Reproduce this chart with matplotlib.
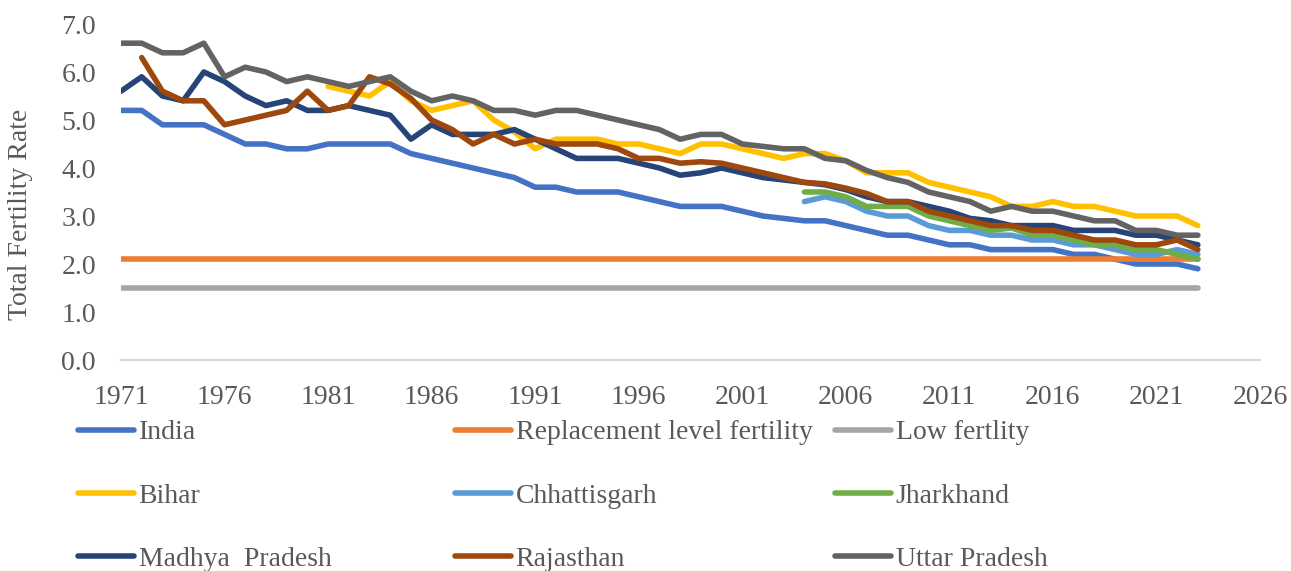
import numpy as np
import matplotlib.pyplot as plt

plt.rcParams['font.family'] = ['Liberation Serif', 'DejaVu Serif']

# years and total fertility rates
years = list(range(1971, 2024))

india = [5.2, 5.2, 4.9, 4.9, 4.9, 4.7, 4.5, 4.5, 4.4, 4.4,
         4.5, 4.5, 4.5, 4.5, 4.3, 4.2, 4.1, 4.0, 3.9, 3.8,
         3.6, 3.6, 3.5, 3.5, 3.5, 3.4, 3.3, 3.2, 3.2, 3.2,
         3.1, 3.0, 2.95, 2.9, 2.9, 2.8, 2.7, 2.6, 2.6, 2.5,
         2.4, 2.4, 2.3, 2.3, 2.3, 2.3, 2.2, 2.2, 2.1, 2.0,
         2.0, 2.0, 1.9]
replacement = [2.1] * len(years)
low = [1.5] * len(years)

bihar_years = list(range(1981, 2024))
bihar = [5.7, 5.6, 5.5, 5.8, 5.4, 5.2, 5.3, 5.4, 5.0, 4.75,
         4.4, 4.6, 4.6, 4.6, 4.5, 4.5, 4.4, 4.3, 4.5, 4.5,
         4.4, 4.3, 4.2, 4.3, 4.3, 4.15, 3.9, 3.9, 3.9, 3.7,
         3.6, 3.5, 3.4, 3.2, 3.2, 3.3, 3.2, 3.2, 3.1, 3.0,
         3.0, 3.0, 2.8]

state_years = list(range(2004, 2024))
chhattisgarh = [3.3, 3.4, 3.3, 3.1, 3.0, 3.0, 2.8, 2.7, 2.7, 2.6,
                2.6, 2.5, 2.5, 2.4, 2.4, 2.3, 2.2, 2.2, 2.3, 2.2]
jharkhand = [3.5, 3.5, 3.4, 3.2, 3.2, 3.2, 3.0, 2.9, 2.8, 2.7,
             2.75, 2.6, 2.6, 2.5, 2.4, 2.4, 2.3, 2.3, 2.2, 2.1]

madhya = [5.6, 5.9, 5.5, 5.4, 6.0, 5.8, 5.5, 5.3, 5.4, 5.2,
          5.2, 5.3, 5.2, 5.1, 4.6, 4.9, 4.7, 4.7, 4.7, 4.8,
          4.6, 4.4, 4.2, 4.2, 4.2, 4.1, 4.0, 3.85, 3.9, 4.0,
          3.9, 3.8, 3.75, 3.7, 3.65, 3.55, 3.4, 3.3, 3.3, 3.2,
          3.1, 2.95, 2.9, 2.8, 2.8, 2.8, 2.7, 2.7, 2.7, 2.6,
          2.6, 2.5, 2.4]

raj_years = list(range(1972, 2024))
rajasthan = [6.3, 5.6, 5.4, 5.4, 4.9, 5.0, 5.1, 5.2, 5.6,
             5.2, 5.3, 5.9, 5.75, 5.45, 5.0, 4.8, 4.5, 4.7, 4.5,
             4.6, 4.5, 4.5, 4.5, 4.4, 4.2, 4.2, 4.1, 4.13, 4.1,
             4.0, 3.9, 3.8, 3.7, 3.67, 3.58, 3.47, 3.3, 3.3, 3.1,
             3.0, 2.9, 2.8, 2.8, 2.7, 2.7, 2.6, 2.5, 2.5, 2.4,
             2.4, 2.5, 2.3]

uttar = [6.6, 6.6, 6.4, 6.4, 6.6, 5.9, 6.1, 6.0, 5.8, 5.9,
         5.8, 5.7, 5.8, 5.9, 5.6, 5.4, 5.5, 5.4, 5.2, 5.2,
         5.1, 5.2, 5.2, 5.1, 5.0, 4.9, 4.8, 4.6, 4.7, 4.7,
         4.5, 4.45, 4.4, 4.4, 4.2, 4.15, 3.95, 3.8, 3.7, 3.5,
         3.4, 3.3, 3.1, 3.2, 3.1, 3.1, 3.0, 2.9, 2.9, 2.7,
         2.7, 2.6, 2.6]

series = [
    ('India', years, india, '#4472C4'),
    ('Replacement level fertility', years, replacement, '#ED7D31'),
    ('Low fertlity', years, low, '#A5A5A5'),
    ('Bihar', bihar_years, bihar, '#FFC000'),
    ('Chhattisgarh', state_years, chhattisgarh, '#5B9BD5'),
    ('Jharkhand', state_years, jharkhand, '#70AD47'),
    ('Madhya  Pradesh', years, madhya, '#264478'),
    ('Rajasthan', raj_years, rajasthan, '#9E480E'),
    ('Uttar Pradesh', years, uttar, '#636363'),
]

fs = 20
fig = plt.figure(figsize=(12.91, 5.71), dpi=100)
ax = fig.add_axes([121 / 1291, 1 - 360 / 571, (1260 - 121) / 1291, 336 / 571])

handles = []
for name, xs, ys, col in series:
    h, = ax.plot(xs, ys, color=col, lw=4, solid_capstyle='round',
                 solid_joinstyle='round', label=name)
    handles.append(h)

ax.set_xlim(1971, 2026)
ax.set_ylim(0, 7)
ax.set_xticks(np.arange(1971, 2027, 5))
ax.set_yticks(np.arange(0, 8, 1))
ax.yaxis.set_major_formatter(plt.FormatStrFormatter('%.1f'))
ax.tick_params(length=0, labelsize=fs, labelcolor='#595959')
ax.tick_params(axis='y', pad=18)
ax.tick_params(axis='x', pad=18)
for s in ['top', 'right', 'left']:
    ax.spines[s].set_visible(False)
ax.spines['bottom'].set_color('#D9D9D9')
ax.spines['bottom'].set_linewidth(1.5)
ax.set_ylabel('Total Fertility Rate', fontsize=fs, color='#595959')
ax.yaxis.set_label_coords(-0.077, 0.432)

# legend: three columns placed like the original
col_x = [78, 455, 835]
for i in range(3):
    hs = [handles[i], handles[i + 3], handles[i + 6]]
    leg = fig.legend(handles=hs, labels=[h.get_label() for h in hs],
                     loc='upper left', bbox_to_anchor=(col_x[i] / 1291, 1 - 420 / 571),
                     frameon=False, fontsize=fs, handlelength=2.0, handletextpad=0.18,
                     labelspacing=1.36, borderpad=0, borderaxespad=0)
    for t in leg.get_texts():
        t.set_color('#595959')

fig.savefig('out.png', dpi=100)
